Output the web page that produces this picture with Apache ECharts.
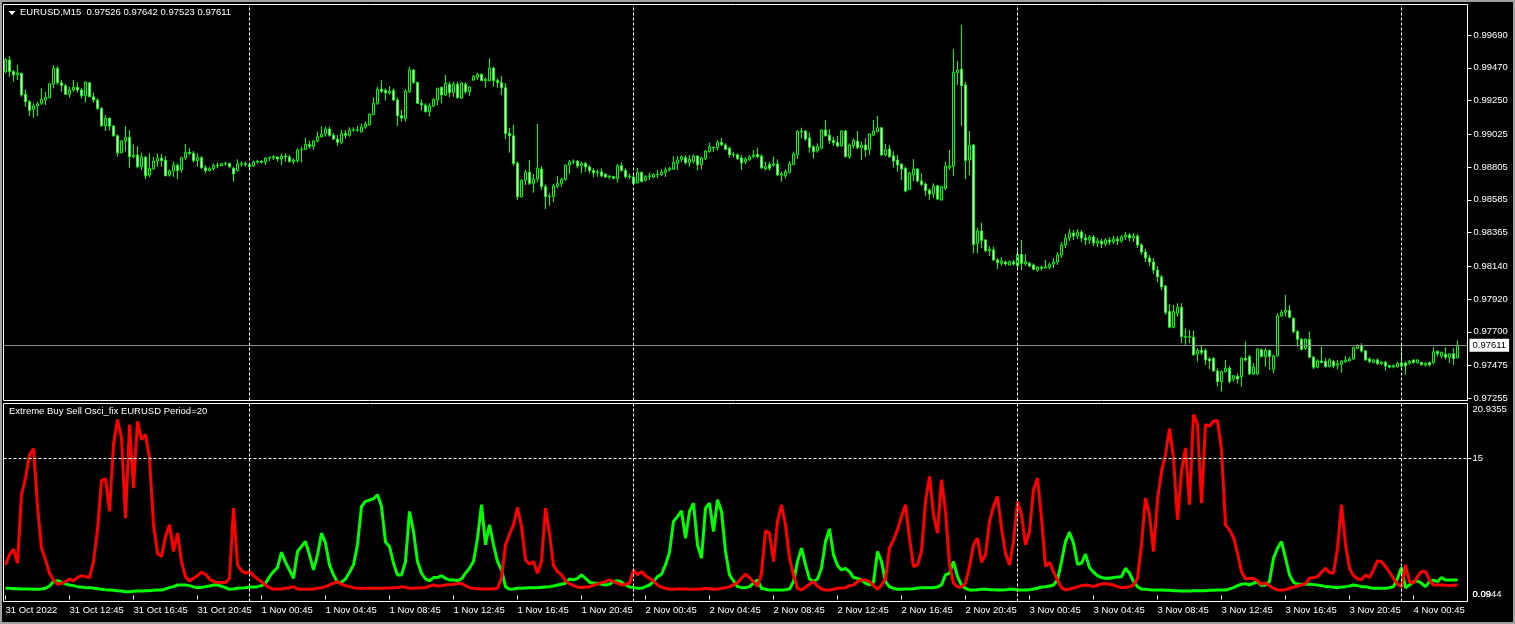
<!DOCTYPE html>
<html><head><meta charset="utf-8">
<script src="https://cdn.jsdelivr.net/npm/echarts@6/dist/echarts.min.js"></script>
<style>html,body{margin:0;padding:0;background:#000;}#c{width:1515px;height:624px;}</style>
</head><body><div id="c"></div>
<script>
const symbolTitle = 'EURUSD,M15';
const oscTitle = 'Extreme Buy Sell Osci_fix EURUSD Period=20';
const timeLabels = ['31 Oct 2022','31 Oct 12:45','31 Oct 16:45','31 Oct 20:45','1 Nov 00:45','1 Nov 04:45','1 Nov 08:45','1 Nov 12:45','1 Nov 16:45','1 Nov 20:45','2 Nov 00:45','2 Nov 04:45','2 Nov 08:45','2 Nov 12:45','2 Nov 16:45','2 Nov 20:45','3 Nov 00:45','3 Nov 04:45','3 Nov 08:45','3 Nov 12:45','3 Nov 16:45','3 Nov 20:45','4 Nov 00:45'];
const barsPerLabel = 16;
const daySeparators = [61, 157, 253, 349];
const priceTicks = [0.99690,0.99470,0.99250,0.99025,0.98805,0.98585,0.98365,0.98140,0.97920,0.97700,0.97475,0.97255];
const oscTicks = [20.9355, 15, 0.09];
const oscTickLabels = ['20.9355','15','0.09'];
const oscMinTick = 0.0944;
const oscMinLabel = '0.0944';
const oscLevel = 15;

const priceOpen = [
0.99444,0.99522,0.99444,0.99422,0.99433,0.99292,0.99243,0.99191,0.99214,0.99232,
0.99254,0.99269,0.99359,0.99466,0.99370,0.99350,0.99292,0.99321,0.99339,0.99321,
0.99283,0.99370,0.99276,0.99254,0.99198,0.99081,0.99131,0.99079,0.99014,0.98901,
0.98979,0.99004,0.98874,0.98885,0.98807,0.98872,0.98751,0.98794,0.98845,0.98863,
0.98850,0.98751,0.98778,0.98816,0.98785,0.98867,0.98903,0.98896,0.98848,0.98867,
0.98800,0.98781,0.98794,0.98816,0.98813,0.98827,0.98829,0.98796,0.98781,0.98825,
0.98827,0.98820,0.98811,0.98839,0.98843,0.98836,0.98865,0.98867,0.98872,0.98858,
0.98878,0.98872,0.98841,0.98848,0.98919,0.98923,0.98956,0.98943,0.98979,0.99008,
0.99026,0.99059,0.99017,0.98992,0.98970,0.99030,0.99017,0.99053,0.99051,0.99040,
0.99071,0.99088,0.99156,0.99232,0.99327,0.99319,0.99301,0.99317,0.99254,0.99149,
0.99129,0.99310,0.99455,0.99372,0.99232,0.99219,0.99176,0.99214,0.99254,0.99339,
0.99288,0.99359,0.99303,0.99359,0.99267,0.99359,0.99310,0.99388,0.99406,0.99426,
0.99384,0.99384,0.99468,0.99384,0.99370,0.99336,0.99030,0.99014,0.98829,0.98606,
0.98716,0.98769,0.98695,0.98724,0.98791,0.98673,0.98606,0.98608,0.98677,0.98695,
0.98722,0.98818,0.98839,0.98843,0.98813,0.98829,0.98805,0.98781,0.98767,0.98772,
0.98758,0.98738,0.98740,0.98729,0.98813,0.98781,0.98740,0.98736,0.98700,0.98769,
0.98716,0.98740,0.98738,0.98755,0.98755,0.98767,0.98785,0.98791,0.98829,0.98856,
0.98867,0.98834,0.98843,0.98878,0.98820,0.98861,0.98908,0.98937,0.98934,0.98970,
0.98952,0.98930,0.98887,0.98887,0.98865,0.98839,0.98852,0.98874,0.98889,0.98878,
0.98794,0.98822,0.98818,0.98825,0.98749,0.98746,0.98769,0.98822,0.98887,0.99044,
0.99044,0.98999,0.98939,0.98912,0.98930,0.99053,0.99017,0.98982,0.98970,0.98947,
0.99046,0.98874,0.98947,0.98979,0.98934,0.98952,0.98923,0.99019,0.99042,0.99068,
0.98887,0.98925,0.98880,0.98852,0.98825,0.98796,0.98655,0.98751,0.98791,0.98711,
0.98691,0.98651,0.98624,0.98679,0.98584,0.98662,0.98800,0.98811,0.99437,0.99461,
0.99355,0.98852,0.98952,0.98293,0.98376,0.98316,0.98245,0.98249,0.98182,0.98159,
0.98169,0.98148,0.98169,0.98143,0.98219,0.98155,0.98159,0.98148,0.98114,0.98133,
0.98128,0.98133,0.98155,0.98168,0.98215,0.98282,0.98329,0.98362,0.98342,0.98369,
0.98329,0.98316,0.98336,0.98295,0.98309,0.98289,0.98316,0.98302,0.98322,0.98309,
0.98336,0.98349,0.98329,0.98342,0.98282,0.98235,0.98195,0.98168,0.98114,0.98068,
0.98008,0.97836,0.97731,0.97825,0.97865,0.97668,0.97664,0.97664,0.97553,0.97575,
0.97575,0.97518,0.97523,0.97438,0.97367,0.97434,0.97456,0.97384,0.97404,0.97400,
0.97523,0.97534,0.97418,0.97418,0.97579,0.97534,0.97575,0.97449,0.97539,0.97807,
0.97831,0.97843,0.97791,0.97702,0.97650,0.97590,0.97650,0.97530,0.97463,0.97505,
0.97501,0.97467,0.97501,0.97477,0.97483,0.97501,0.97505,0.97518,0.97590,0.97608,
0.97572,0.97518,0.97494,0.97512,0.97486,0.97496,0.97474,0.97465,0.97467,0.97467,
0.97492,0.97490,0.97512,0.97494,0.97494,0.97477,0.97494,0.97494,0.97570,0.97539,
0.97550,0.97530,0.97553,0.97526];

const priceHigh = [
0.99533,0.99549,0.99455,0.99489,0.99437,0.99325,0.99254,0.99232,0.99243,0.99332,
0.99310,0.99366,0.99489,0.99482,0.99388,0.99362,0.99343,0.99388,0.99372,0.99336,
0.99377,0.99370,0.99303,0.99265,0.99205,0.99154,0.99138,0.99086,0.99023,0.98986,
0.99079,0.99053,0.98956,0.98945,0.98901,0.98874,0.98896,0.98874,0.98896,0.98892,
0.98878,0.98789,0.98841,0.98829,0.98874,0.98959,0.98930,0.98912,0.98896,0.98878,
0.98818,0.98807,0.98829,0.98836,0.98834,0.98841,0.98834,0.98807,0.98856,0.98843,
0.98841,0.98829,0.98848,0.98854,0.98852,0.98870,0.98878,0.98885,0.98878,0.98896,
0.98896,0.98889,0.98863,0.98930,0.98941,0.99001,0.98982,0.98986,0.99042,0.99079,
0.99075,0.99075,0.99035,0.99019,0.99053,0.99053,0.99071,0.99071,0.99081,0.99095,
0.99109,0.99165,0.99272,0.99343,0.99388,0.99332,0.99348,0.99332,0.99272,0.99187,
0.99327,0.99477,0.99461,0.99377,0.99258,0.99232,0.99232,0.99265,0.99336,0.99343,
0.99422,0.99377,0.99377,0.99377,0.99377,0.99372,0.99348,0.99422,0.99437,0.99433,
0.99406,0.99533,0.99477,0.99399,0.99415,0.99366,0.99068,0.99086,0.98845,0.98722,
0.98785,0.98852,0.98758,0.99093,0.98811,0.98688,0.98628,0.98691,0.98744,0.98733,
0.98822,0.98852,0.98856,0.98852,0.98841,0.98841,0.98818,0.98796,0.98789,0.98796,
0.98762,0.98751,0.98746,0.98825,0.98834,0.98796,0.98762,0.98751,0.98798,0.98774,
0.98751,0.98767,0.98762,0.98785,0.98789,0.98803,0.98807,0.98878,0.98878,0.98883,
0.98885,0.98885,0.98889,0.98885,0.98874,0.98919,0.98968,0.98941,0.98986,0.99001,
0.98963,0.98941,0.98906,0.98896,0.98885,0.98870,0.98885,0.98919,0.98934,0.98889,
0.98841,0.98841,0.98874,0.98856,0.98774,0.98789,0.98845,0.98908,0.99053,0.99068,
0.99053,0.99035,0.98952,0.98963,0.99057,0.99120,0.99059,0.99008,0.99014,0.99053,
0.99053,0.98963,0.98997,0.99046,0.98975,0.98997,0.99030,0.99120,0.99147,0.99071,
0.98959,0.98952,0.98908,0.98885,0.98829,0.98807,0.98774,0.98858,0.98796,0.98762,
0.98700,0.98662,0.98695,0.98684,0.98679,0.98841,0.98919,0.99595,0.99515,0.99757,
0.99377,0.99046,0.98959,0.98398,0.98432,0.98320,0.98275,0.98271,0.98193,0.98200,
0.98178,0.98178,0.98182,0.98249,0.98316,0.98219,0.98169,0.98159,0.98141,0.98146,
0.98182,0.98164,0.98195,0.98235,0.98302,0.98356,0.98389,0.98383,0.98389,0.98383,
0.98356,0.98349,0.98349,0.98329,0.98322,0.98329,0.98336,0.98342,0.98342,0.98349,
0.98369,0.98362,0.98362,0.98356,0.98295,0.98255,0.98215,0.98195,0.98141,0.98081,
0.98015,0.97888,0.97881,0.97892,0.97892,0.97724,0.97713,0.97709,0.97590,0.97606,
0.97590,0.97530,0.97530,0.97456,0.97441,0.97512,0.97472,0.97411,0.97422,0.97530,
0.97635,0.97546,0.97490,0.97590,0.97590,0.97590,0.97583,0.97546,0.97825,0.97847,
0.97948,0.97881,0.97798,0.97713,0.97657,0.97657,0.97702,0.97539,0.97516,0.97601,
0.97523,0.97523,0.97512,0.97512,0.97512,0.97539,0.97534,0.97601,0.97617,0.97624,
0.97579,0.97530,0.97518,0.97523,0.97505,0.97505,0.97479,0.97481,0.97499,0.97613,
0.97501,0.97512,0.97516,0.97516,0.97501,0.97496,0.97501,0.97597,0.97575,0.97568,
0.97597,0.97557,0.97590,0.97642];

const priceLow = [
0.99433,0.99410,0.99377,0.99388,0.99276,0.99209,0.99147,0.99135,0.99147,0.99221,
0.99221,0.99265,0.99332,0.99355,0.99310,0.99288,0.99269,0.99310,0.99303,0.99265,
0.99236,0.99272,0.99236,0.99187,0.99075,0.99046,0.99049,0.99008,0.98874,0.98896,
0.98908,0.98800,0.98863,0.98796,0.98785,0.98724,0.98736,0.98785,0.98807,0.98807,
0.98744,0.98740,0.98740,0.98724,0.98767,0.98852,0.98885,0.98834,0.98807,0.98791,
0.98762,0.98774,0.98781,0.98796,0.98811,0.98813,0.98796,0.98707,0.98774,0.98807,
0.98807,0.98800,0.98807,0.98825,0.98829,0.98818,0.98845,0.98852,0.98841,0.98818,
0.98841,0.98834,0.98825,0.98834,0.98834,0.98919,0.98928,0.98919,0.98970,0.99001,
0.99008,0.99008,0.98986,0.98947,0.98959,0.98995,0.99008,0.99042,0.99042,0.99035,
0.99062,0.99081,0.99152,0.99221,0.99299,0.99250,0.99288,0.99247,0.99079,0.99109,
0.99109,0.99303,0.99362,0.99228,0.99183,0.99169,0.99142,0.99205,0.99219,0.99232,
0.99281,0.99272,0.99276,0.99265,0.99260,0.99295,0.99281,0.99381,0.99388,0.99381,
0.99336,0.99377,0.99343,0.99336,0.99288,0.98992,0.98901,0.98813,0.98584,0.98599,
0.98684,0.98684,0.98633,0.98700,0.98651,0.98523,0.98545,0.98568,0.98662,0.98673,
0.98711,0.98758,0.98825,0.98796,0.98762,0.98772,0.98762,0.98736,0.98740,0.98736,
0.98731,0.98722,0.98722,0.98700,0.98774,0.98729,0.98722,0.98688,0.98695,0.98702,
0.98709,0.98718,0.98729,0.98729,0.98744,0.98738,0.98774,0.98785,0.98785,0.98839,
0.98822,0.98807,0.98829,0.98781,0.98789,0.98852,0.98901,0.98906,0.98915,0.98945,
0.98919,0.98867,0.98867,0.98852,0.98785,0.98825,0.98848,0.98863,0.98863,0.98791,
0.98781,0.98781,0.98807,0.98746,0.98707,0.98727,0.98762,0.98816,0.98858,0.98995,
0.98982,0.98901,0.98861,0.98901,0.98923,0.99008,0.98959,0.98945,0.98937,0.98941,
0.98870,0.98858,0.98930,0.98923,0.98852,0.98874,0.98885,0.99012,0.99037,0.98878,
0.98874,0.98867,0.98800,0.98774,0.98718,0.98635,0.98651,0.98711,0.98702,0.98679,
0.98612,0.98584,0.98595,0.98584,0.98580,0.98651,0.98785,0.98744,0.99355,0.99079,
0.98724,0.98751,0.98226,0.98226,0.98260,0.98233,0.98208,0.98175,0.98121,0.98143,
0.98143,0.98143,0.98143,0.98114,0.98114,0.98143,0.98133,0.98114,0.98103,0.98110,
0.98124,0.98119,0.98128,0.98148,0.98195,0.98262,0.98309,0.98316,0.98322,0.98302,
0.98282,0.98289,0.98275,0.98269,0.98262,0.98275,0.98282,0.98289,0.98282,0.98295,
0.98316,0.98309,0.98302,0.98262,0.98215,0.98168,0.98141,0.98088,0.98034,0.97980,
0.97814,0.97724,0.97724,0.97802,0.97624,0.97613,0.97624,0.97539,0.97501,0.97546,
0.97479,0.97449,0.97434,0.97333,0.97300,0.97427,0.97355,0.97367,0.97355,0.97333,
0.97501,0.97411,0.97411,0.97411,0.97530,0.97467,0.97445,0.97422,0.97534,0.97802,
0.97802,0.97791,0.97691,0.97601,0.97575,0.97579,0.97523,0.97451,0.97456,0.97490,
0.97460,0.97463,0.97456,0.97449,0.97427,0.97490,0.97501,0.97512,0.97583,0.97561,
0.97505,0.97490,0.97490,0.97479,0.97477,0.97441,0.97456,0.97456,0.97460,0.97463,
0.97415,0.97479,0.97486,0.97486,0.97474,0.97467,0.97467,0.97483,0.97534,0.97523,
0.97516,0.97490,0.97479,0.97523];

const priceClose = [
0.99526,0.99444,0.99422,0.99437,0.99288,0.99243,0.99183,0.99214,0.99228,0.99258,
0.99272,0.99362,0.99466,0.99370,0.99350,0.99292,0.99321,0.99339,0.99321,0.99283,
0.99375,0.99276,0.99254,0.99198,0.99081,0.99131,0.99079,0.99014,0.98901,0.98979,
0.99004,0.98874,0.98885,0.98807,0.98872,0.98746,0.98796,0.98845,0.98863,0.98848,
0.98746,0.98778,0.98818,0.98781,0.98867,0.98903,0.98896,0.98848,0.98867,0.98800,
0.98781,0.98794,0.98816,0.98813,0.98827,0.98829,0.98807,0.98758,0.98825,0.98827,
0.98820,0.98807,0.98839,0.98843,0.98836,0.98865,0.98867,0.98874,0.98858,0.98878,
0.98872,0.98841,0.98852,0.98919,0.98921,0.98956,0.98943,0.98979,0.99008,0.99026,
0.99059,0.99017,0.98992,0.98970,0.99030,0.99017,0.99053,0.99051,0.99055,0.99073,
0.99093,0.99158,0.99232,0.99327,0.99312,0.99301,0.99312,0.99254,0.99149,0.99133,
0.99314,0.99455,0.99372,0.99232,0.99221,0.99176,0.99214,0.99258,0.99332,0.99288,
0.99366,0.99303,0.99359,0.99269,0.99368,0.99310,0.99341,0.99413,0.99426,0.99384,
0.99394,0.99468,0.99384,0.99370,0.99336,0.99030,0.99014,0.98829,0.98606,0.98716,
0.98769,0.98695,0.98724,0.98796,0.98673,0.98606,0.98608,0.98677,0.98695,0.98722,
0.98818,0.98839,0.98843,0.98811,0.98829,0.98805,0.98781,0.98767,0.98772,0.98746,
0.98738,0.98744,0.98729,0.98813,0.98781,0.98740,0.98744,0.98695,0.98769,0.98707,
0.98740,0.98746,0.98755,0.98753,0.98772,0.98785,0.98794,0.98836,0.98852,0.98874,
0.98834,0.98856,0.98878,0.98820,0.98865,0.98912,0.98941,0.98932,0.98970,0.98954,
0.98923,0.98887,0.98889,0.98861,0.98832,0.98858,0.98872,0.98885,0.98874,0.98800,
0.98807,0.98796,0.98825,0.98751,0.98760,0.98774,0.98825,0.98892,0.99044,0.99040,
0.98992,0.98937,0.98908,0.98943,0.99053,0.99014,0.98982,0.98968,0.98945,0.99046,
0.98874,0.98952,0.98982,0.98934,0.98952,0.98919,0.99026,0.99046,0.99068,0.98885,
0.98919,0.98874,0.98845,0.98818,0.98791,0.98644,0.98762,0.98791,0.98711,0.98688,
0.98647,0.98624,0.98677,0.98590,0.98673,0.98811,0.98813,0.99439,0.99455,0.99350,
0.98848,0.98947,0.98286,0.98376,0.98312,0.98245,0.98253,0.98182,0.98164,0.98175,
0.98155,0.98171,0.98155,0.98219,0.98159,0.98171,0.98141,0.98119,0.98133,0.98126,
0.98137,0.98152,0.98168,0.98215,0.98282,0.98329,0.98362,0.98342,0.98369,0.98329,
0.98316,0.98336,0.98295,0.98309,0.98289,0.98316,0.98302,0.98322,0.98309,0.98336,
0.98349,0.98329,0.98342,0.98282,0.98235,0.98195,0.98168,0.98114,0.98068,0.98001,
0.97829,0.97731,0.97836,0.97865,0.97668,0.97664,0.97668,0.97546,0.97575,0.97561,
0.97512,0.97505,0.97438,0.97367,0.97434,0.97456,0.97367,0.97406,0.97384,0.97523,
0.97512,0.97418,0.97463,0.97585,0.97534,0.97575,0.97534,0.97539,0.97807,0.97831,
0.97843,0.97798,0.97702,0.97650,0.97583,0.97650,0.97530,0.97463,0.97505,0.97494,
0.97467,0.97512,0.97472,0.97486,0.97505,0.97512,0.97518,0.97594,0.97608,0.97572,
0.97512,0.97501,0.97512,0.97486,0.97499,0.97472,0.97463,0.97474,0.97488,0.97492,
0.97472,0.97503,0.97494,0.97512,0.97479,0.97490,0.97479,0.97566,0.97553,0.97563,
0.97530,0.97553,0.97521,0.97611];

const sellOsc = [
3.34,4.43,5.05,3.52,10.99,12.81,15.36,16.02,9.72,5.16,
3.89,2.43,1.70,1.23,1.34,1.52,1.81,1.59,1.96,2.17,
2.06,1.96,3.70,7.16,12.52,12.74,9.17,16.46,19.19,17.18,
8.44,18.64,11.72,19.00,17.00,17.55,15.00,7.71,4.61,4.25,
6.44,7.71,4.80,6.80,3.70,2.06,1.59,1.88,2.17,2.54,
2.32,1.81,1.52,1.45,1.41,1.41,1.88,9.53,3.34,2.72,
2.43,2.61,2.17,1.81,1.52,1.15,0.86,0.68,0.72,0.72,
0.79,0.86,0.97,0.72,0.68,0.68,0.68,0.72,0.79,0.86,
0.97,1.15,1.34,1.52,1.23,1.08,0.97,0.86,0.79,0.79,
0.79,0.79,0.79,0.79,0.79,0.83,0.83,0.86,0.86,0.97,
0.90,0.79,0.79,0.83,0.86,0.86,1.04,1.15,1.04,1.08,
1.15,1.19,1.23,1.30,1.30,1.08,0.86,0.79,0.75,0.72,
0.72,0.72,0.75,0.79,1.88,5.53,6.69,7.71,9.61,7.53,
3.89,3.41,3.70,2.43,3.70,9.53,6.80,3.27,2.61,2.25,
1.59,1.30,1.08,0.94,0.86,0.94,0.97,1.12,1.26,1.41,
1.52,1.70,1.52,1.34,1.15,1.23,1.34,2.79,2.25,2.61,
2.17,1.88,1.59,1.15,0.90,0.79,0.68,0.68,0.72,0.72,
0.72,0.68,0.68,0.68,0.72,0.79,0.75,0.68,0.68,0.79,
0.86,0.97,1.15,1.41,1.88,2.32,1.96,1.52,0.97,2.43,
7.06,6.80,3.70,8.08,9.90,7.71,4.07,2.25,0.79,0.61,
0.90,1.23,1.52,1.04,0.72,0.61,0.61,0.68,0.79,0.83,
0.86,1.08,1.15,1.52,1.70,1.70,1.52,1.08,0.68,1.15,
1.81,5.16,6.07,7.16,8.62,9.90,6.25,3.16,3.34,4.80,
10.26,12.99,8.80,6.80,12.63,9.17,3.34,1.34,0.94,0.94,
1.34,3.16,5.53,6.25,3.63,4.43,8.08,9.72,10.81,7.35,
4.61,3.34,5.89,10.19,8.80,5.53,6.98,11.54,12.81,8.44,
3.16,3.63,2.61,1.70,0.86,0.61,0.72,0.83,0.94,1.08,
1.15,1.08,0.97,1.12,1.26,1.30,1.23,1.15,0.97,0.86,
0.90,0.97,1.15,1.88,5.53,10.63,8.80,4.80,10.44,13.54,
15.36,18.20,15.00,8.26,13.54,16.09,9.90,19.73,18.64,10.08,
18.64,18.46,19.00,19.08,15.91,7.71,7.16,6.33,4.61,2.61,
1.81,1.88,1.85,1.59,1.23,1.37,1.08,0.79,0.61,0.61,
0.64,0.79,0.90,1.04,1.15,1.30,1.88,1.96,2.06,2.54,
2.97,2.50,2.43,5.16,9.90,5.53,2.97,2.17,1.81,1.74,
2.25,1.96,2.79,3.78,3.70,3.16,2.54,1.88,1.23,0.97,
3.34,1.52,1.34,2.06,2.61,2.61,1.70,1.15,1.15,1.15,
1.12,1.08,1.12,1.15];

const buyOsc = [
0.79,0.79,0.75,0.75,0.72,0.72,0.72,0.68,0.68,0.72,
0.79,1.04,1.52,1.63,1.45,1.26,1.15,1.08,0.97,0.94,
0.86,0.86,0.83,0.75,0.68,0.64,0.61,0.57,0.53,0.50,
0.42,0.42,0.46,0.50,0.50,0.53,0.53,0.57,0.61,0.61,
0.72,0.86,0.97,1.15,1.15,1.15,1.08,0.94,0.86,0.90,
0.97,1.04,1.15,1.15,1.01,0.86,0.68,0.72,0.79,0.83,
0.86,0.90,0.94,0.97,1.08,1.34,2.06,2.61,3.05,4.72,
3.63,2.79,1.88,4.80,5.34,5.89,4.43,2.79,4.43,6.80,
5.71,3.34,2.25,1.45,1.45,1.81,2.54,3.34,5.53,9.72,
10.26,10.41,10.55,10.99,9.72,5.82,5.34,3.52,2.25,2.25,
3.70,9.17,6.98,3.70,2.43,1.81,1.59,1.96,1.96,2.17,
1.88,1.70,1.70,1.63,1.81,2.43,2.97,3.70,6.25,9.90,
5.53,7.71,5.53,3.70,2.79,0.97,0.68,0.72,0.79,0.79,
0.83,0.86,0.86,0.86,0.90,0.94,0.97,1.04,1.15,1.23,
1.34,1.81,1.70,1.88,2.25,1.88,1.45,1.34,1.34,1.23,
1.15,1.23,1.52,1.63,1.45,1.15,0.94,0.86,0.79,0.79,
0.97,1.15,1.52,2.06,2.32,3.34,4.72,8.08,8.62,9.24,
6.25,9.17,10.08,5.53,4.07,9.53,10.08,6.98,10.44,9.17,
4.80,2.25,1.59,0.97,0.86,0.86,0.97,1.34,1.70,0.79,
0.68,0.61,0.61,0.61,0.61,0.64,0.72,1.52,3.70,5.16,
3.34,1.81,1.52,1.81,2.97,5.89,7.27,4.43,3.27,2.79,
2.97,2.61,1.96,1.88,1.70,1.34,1.15,1.45,4.80,3.70,
1.52,0.94,0.79,0.68,0.68,0.72,0.72,0.75,0.83,0.86,
0.86,0.86,0.86,0.94,1.15,2.25,2.43,3.70,2.06,1.15,
0.79,0.61,0.61,0.64,0.68,0.68,0.64,0.64,0.61,0.61,
0.64,0.68,0.68,0.61,0.61,0.61,0.64,0.72,0.79,0.94,
0.97,1.04,1.15,1.70,3.70,5.89,6.91,5.71,3.41,3.52,
4.51,3.05,2.54,2.17,1.96,1.88,1.88,1.96,2.03,2.06,
2.97,2.43,1.52,0.97,0.68,0.68,0.64,0.61,0.61,0.61,
0.57,0.57,0.53,0.53,0.50,0.50,0.50,0.53,0.53,0.53,
0.53,0.57,0.57,0.61,0.61,0.61,0.72,0.86,1.08,1.23,
1.30,1.15,1.34,1.52,1.08,1.15,1.52,4.07,5.16,5.89,
4.07,2.25,1.45,1.23,1.23,1.23,1.23,1.19,1.15,1.08,
0.97,0.97,0.90,0.86,0.94,0.97,1.04,1.15,1.08,0.97,
0.97,0.86,0.79,0.79,0.79,0.79,0.86,0.97,1.88,3.05,
0.86,1.15,1.52,1.59,1.34,0.97,1.52,1.67,1.52,1.96,
1.70,1.70,1.70,1.70];

const TOTAL_SLOTS = 366;
const FONT = 'Liberation Sans';
const WHITE = '#ffffff';
const LIME = '#00ff00';
const PRICE_MIN = 0.97240, PRICE_MAX = 0.99894;
const OSC_MIN = -0.65, OSC_MAX = 20.9355;

const cats = Array.from({length: TOTAL_SLOTS}, (_, i) => i);
const candles = priceOpen.map((o, i) => [o, priceClose[i], priceLow[i], priceHigh[i]]);
const n = priceClose.length;
const lastClose = priceClose[n - 1];
const fmt = v => v.toFixed(5);
const headerText = symbolTitle + '  ' + [priceOpen[n-1], priceHigh[n-1], priceLow[n-1], priceClose[n-1]].map(fmt).join(' ');
const labelInterval = idx => idx % barsPerLabel === 0 && idx / barsPerLabel < timeLabels.length;
const sepLine = {type: [3, 2], color: WHITE, width: 1};
const axisFont = {color: WHITE, fontFamily: FONT, fontSize: 9.5};

const chart = echarts.init(document.getElementById('c'), null, {renderer: 'canvas'});
chart.setOption({
  backgroundColor: '#000000',
  animation: false,
  title: [
    {text: headerText, left: 20, top: 7, padding: 0, textStyle: {color: WHITE, fontFamily: FONT, fontSize: 9.5, fontWeight: 'normal'}},
    {text: oscTitle, left: 9, top: 406, padding: 0, textStyle: {color: WHITE, fontFamily: FONT, fontSize: 9.5, fontWeight: 'normal'}}
  ],
  graphic: [
    {type: 'rect', shape: {x: 1, y: 1, width: 1513, height: 622}, style: {fill: 'none', stroke: '#a0a0a0', lineWidth: 2}, silent: true},
    {type: 'polygon', shape: {points: [[8.5, 11], [15.5, 11], [12, 15]]}, style: {fill: WHITE}, silent: true}
  ],
  grid: [
    {left: 3.5, top: 4.5, width: 1464, height: 396, show: true, borderColor: WHITE, borderWidth: 1, backgroundColor: 'transparent'},
    {left: 3.5, top: 403.5, width: 1464, height: 198, show: true, borderColor: WHITE, borderWidth: 1, backgroundColor: 'transparent'}
  ],
  xAxis: [
    {type: 'category', gridIndex: 0, data: cats, boundaryGap: true,
     axisLine: {show: false}, axisTick: {show: false}, axisLabel: {show: false}, splitLine: {show: false}},
    {type: 'category', gridIndex: 1, data: cats, boundaryGap: true,
     axisLine: {show: false},
     axisTick: {show: true, alignWithLabel: true, interval: labelInterval, length: 4, lineStyle: {color: WHITE}},
     axisLabel: Object.assign({show: true, interval: labelInterval, formatter: (v, i) => timeLabels[i / barsPerLabel],
                 align: 'left', margin: 4}, axisFont),
     splitLine: {show: false}}
  ],
  yAxis: [
    {type: 'value', gridIndex: 0, position: 'right', min: PRICE_MIN, max: PRICE_MAX,
     axisLine: {show: false}, splitLine: {show: false},
     axisTick: {show: true, customValues: priceTicks, length: 4, lineStyle: {color: WHITE}},
     axisLabel: Object.assign({show: true, customValues: priceTicks, formatter: v => fmt(v), margin: 6, hideOverlap: false}, axisFont)},
    {type: 'value', gridIndex: 1, position: 'right', min: OSC_MIN, max: OSC_MAX,
     axisLine: {show: false}, splitLine: {show: false},
     axisTick: {show: true, customValues: [oscTicks[1]], length: 4, lineStyle: {color: WHITE}},
     axisLabel: Object.assign({show: true, customValues: oscTicks, margin: 5, hideOverlap: false,
       formatter: v => {
         let k = 0, best = Infinity;
         oscTicks.forEach((t, j) => { const d = Math.abs(t - v); if (d < best) { best = d; k = j; } });
         return k === 0 ? '{top|' + oscTickLabels[k] + '}' : oscTickLabels[k];
       },
       rich: {top: {color: WHITE, fontFamily: FONT, fontSize: 9.5, padding: [12, 0, 0, 0]}}}, axisFont)},
    {type: 'value', gridIndex: 1, position: 'right', min: OSC_MIN, max: OSC_MAX,
     axisLine: {show: false}, splitLine: {show: false}, axisTick: {show: false},
     axisLabel: Object.assign({show: true, customValues: [oscMinTick], margin: 5, formatter: () => oscMinLabel}, axisFont)}
  ],
  series: [
    {type: 'candlestick', xAxisIndex: 0, yAxisIndex: 0, data: candles, barWidth: 2,
     itemStyle: {color: '#000000', color0: '#ffffff', borderColor: LIME, borderColor0: LIME, borderWidth: 1},
     markLine: {silent: true, symbol: ['none', 'none'], animation: false, precision: 5,
       data: daySeparators.map(d => ({xAxis: d, lineStyle: sepLine, label: {show: false}}))}},
    {type: 'line', xAxisIndex: 0, yAxisIndex: 0, data: priceClose, showSymbol: false, symbol: 'none', silent: true,
     lineStyle: {opacity: 0, width: 0}, itemStyle: {opacity: 0}, z: 1,
     markLine: {silent: true, symbol: ['none', 'none'], animation: false, precision: 5,
       data: [{yAxis: lastClose, lineStyle: {type: 'solid', color: '#8c8c8c', width: 1},
               label: {show: true, position: 'end', distance: 2, formatter: () => fmt(lastClose), color: '#000000',
                       backgroundColor: '#ffffff', padding: [2, 3, 1, 3], fontFamily: FONT, fontSize: 9.5}}]}},
    {type: 'line', xAxisIndex: 1, yAxisIndex: 1, data: buyOsc, showSymbol: false, symbol: 'none',
     lineStyle: {color: LIME, width: 3}, itemStyle: {color: LIME},
     markLine: {silent: true, symbol: ['none', 'none'], animation: false, precision: 5,
       data: [
         ...daySeparators.map(d => ({xAxis: d, lineStyle: sepLine, label: {show: false}})),
         {yAxis: oscLevel, lineStyle: sepLine, label: {show: false}}
       ]}},
    {type: 'line', xAxisIndex: 1, yAxisIndex: 1, data: sellOsc, showSymbol: false, symbol: 'none',
     lineStyle: {color: '#ff0000', width: 3}, itemStyle: {color: '#ff0000'}}
  ]
});
</script>
</body></html>
